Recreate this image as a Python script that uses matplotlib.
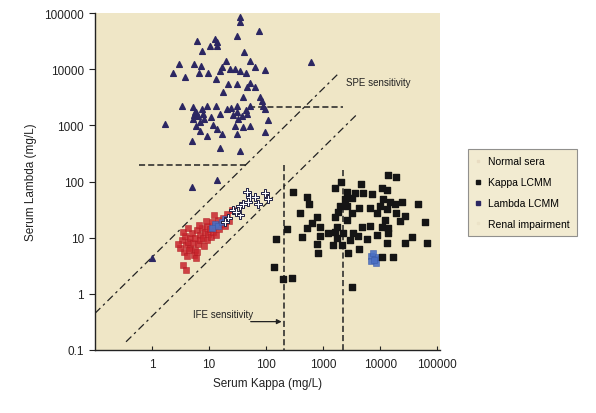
import matplotlib
matplotlib.use("Agg")
import matplotlib.pyplot as plt
from matplotlib.lines import Line2D

plt.rcParams['font.family'] = ['Liberation Sans', 'DejaVu Sans']

# ---------------- data (mg/L) ----------------
normal_kappa = [3.36, 3.8, 3.95, 4.28, 4.64, 4.64, 5.03, 5.24, 5.68, 5.68, 6.15, 6.4, 6.95, 6.95,
                7.5, 7.85, 8.2, 8.5, 9.2, 9.2, 9.6, 10.4, 10.8, 11.3, 11.7, 12.7, 13.3, 14.4, 15.0,
                16.2, 17.6, 19.1, 20.7, 22.4, 3.64, 4.1, 4.46, 5.46, 6.15, 3.1, 2.86, 3.5, 4.28,
                6.68, 5.9, 3.5, 3.95, 8.85, 12.2, 25.3]
normal_lambda = [9.2, 10.9, 7.5, 8.5, 10.0, 6.6, 12.3, 8.1, 10.0, 6.1, 13.9, 7.8, 11.3, 9.2,
                 15.1, 10.0, 7.2, 12.8, 16.4, 9.2, 11.8, 14.5, 10.4, 19.3, 12.8, 16.4, 11.3, 21.0, 14.5,
                 17.8, 22.8, 16.4, 26.8, 20.0, 5.6, 4.8, 6.1, 5.0, 5.6, 6.6, 7.8, 12.8, 15.1,
                 17.1, 4.4, 3.3, 2.7, 20.0, 25.8, 31.6]

kappa_lcmm_kappa = [13800, 19100, 2070, 4640, 1620, 298, 2640, 3650, 5030, 7250, 10850, 13300, 523,
                    2430, 3230, 11300, 15000, 24300, 46400, 568, 1990, 2640, 4280, 6680, 10000, 18300,
                    13300, 395, 1830, 3230, 8850, 19100, 27500, 785, 1620, 2640, 12200, 22400, 61700,
                    641, 523, 885, 1760, 4830, 6680, 10850, 13800, 234, 1230, 1620, 2240, 3360, 4110,
                    8850, 13800, 885, 427, 36400, 150, 1760, 2980, 5900, 13300, 27500, 66800, 785,
                    1500, 2150, 4280, 815, 2750, 10850, 16900, 138, 286, 200, 3230]
kappa_lcmm_lambda = [128, 118, 100, 92, 78, 66, 66, 63, 63, 61, 78, 72, 52,
                     48, 50, 48, 44, 44, 40, 39, 36, 36, 34, 34, 36, 39,
                     32, 28, 29, 27, 28, 28, 24, 23, 23, 21, 21, 20, 19,
                     18, 15.1, 15.7, 15.7, 15.7, 16.4, 15.7, 15.1, 14.5, 12.3, 12.8, 12.3, 12.3, 10.9,
                     11.3, 12.3, 10.9, 10.4, 10.4, 9.6, 10.0, 9.2, 9.6, 8.1, 8.1, 8.1, 7.8,
                     7.5, 7.5, 6.3, 5.4, 5.4, 4.6, 4.6, 3.0, 1.9, 1.8, 1.3]

lambda_lcmm_kappa = [35, 35, 75, 31, 6.2, 12.7, 13.8, 10.4, 13.8, 7.5, 41, 19.9, 52, 616, 3.0, 2.3,
                     3.8, 5.5, 7.2, 6.7, 9.6, 15.6, 16.9, 23.4, 28.6, 35, 44.6, 64, 96, 13.3, 21.5,
                     31, 46.4, 64, 52, 17.6, 39.5, 78.5, 3.4, 5.2, 5.7, 6.4, 7.9, 7.5, 9.2, 5.2, 7.0,
                     13.3, 15.6, 20.7, 31, 31, 38, 46.4, 52, 85, 88.5, 96, 32, 28.6, 52, 39.5, 108,
                     1.7, 11.7, 13.8, 7.0, 5.9, 96, 31, 9.2, 16.9, 6.0, 8.0, 5.5, 11, 26, 24, 45,
                     5.0, 15.6, 35, 13.8, 5.0, 1.0]
lambda_lcmm_lambda = [85000, 69000, 48000, 39000, 31600, 34500, 30200, 25700, 25700, 21000, 20000,
                      13900, 13900, 13300, 12300, 8500, 7200, 12300, 11300, 8500, 8500, 9140, 10900,
                      10000, 10000, 9140, 8500, 10900, 9560, 6600, 5390, 5390, 4760, 4760, 5630, 3880,
                      3160, 3160, 2180, 2100, 1720, 1440, 1580, 1940, 2180, 1280, 1130, 2180, 1580,
                      1940, 2180, 1720, 1440, 1580, 2180, 2690, 2180, 1940, 1280, 960, 960, 920, 1230,
                      1040, 1000, 850, 780, 960, 750, 690, 635, 690, 1700, 1300, 1500, 1400, 1500,
                      2000, 1900, 520, 400, 345, 108, 80, 4.4]

renal_kappa = [46.4, 52, 48.6, 96, 108, 35, 26.3, 35, 21.5, 19.1, 64, 39.5, 29.8, 72]
renal_lambda = [66, 54, 44, 63, 48, 36, 31.6, 25.8, 22.8, 19.3, 52, 39, 29, 39]

blue_kappa = [7000, 8000, 7500, 9000, 6800, 8500, 7800, 12.7, 14.4, 16.9, 11.3, 19.1]
blue_lambda = [4.8, 4.2, 5.3, 4.5, 3.9, 3.6, 4.0, 17.8, 16.4, 19.3, 15.1, 21.6]

# reference limits
ife_kappa, ife_lambda = 210, 200
spe_kappa, spe_lambda = 2200, 2100
upper_ratio, lower_ratio = 4.5, 0.4

x_ticks = [1, 10, 100, 1000, 10000, 100000]
x_labels = ["1", "10", "100", "1000", "10000", "100000"]
y_ticks = [0.1, 1, 10, 100, 1000, 10000, 100000]
y_labels = ["0.1", "1", "10", "100", "1000", "10000", "100000"]

# ---------------- figure ----------------
W, H = 596, 414
fig = plt.figure(figsize=(W / 100, H / 100), dpi=100)
fig.patch.set_facecolor('white')
ax = fig.add_axes([95 / W, 1 - 351 / H, (440 - 95) / W, (351 - 14) / H])
bg = '#efe6c6'
ax.set_facecolor(bg)
ax.set_xscale('log')
ax.set_yscale('log')
ax.set_xlim(0.1, 1.12e5)
ax.set_ylim(0.1, 1.0e5)

line_col = '#222222'
dd = (0, (6, 3, 2, 3))
# diagonal ratio lines
ax.plot([0.1, 1900], [0.1 * upper_ratio, 1900 * upper_ratio], color=line_col, lw=0.9, ls=dd, zorder=2)
ax.plot([0.35, 4000], [0.35 * lower_ratio, 4000 * lower_ratio], color=line_col, lw=0.9, ls=dd, zorder=2)
# IFE limits
ax.plot([0.6, ife_lambda / upper_ratio], [ife_lambda, ife_lambda], color=line_col, lw=1.1, ls=(0, (4, 2)), zorder=2)
ax.plot([ife_kappa, ife_kappa], [ife_lambda, 0.1], color=line_col, lw=1.1, ls=(0, (4, 2)), zorder=2)
# SPE limits
ax.plot([50, spe_kappa], [spe_lambda, spe_lambda], color=line_col, lw=1.1, ls=(0, (4, 2)), zorder=2)
ax.plot([spe_kappa, spe_kappa], [160, 0.1], color=line_col, lw=1.1, ls=(0, (4, 2)), zorder=2)

# scatter series
ax.scatter(normal_kappa, normal_lambda, marker='s', s=20, color='#c9252d', edgecolors='#b01a22',
           linewidths=0.4, alpha=0.85, zorder=3)
ax.scatter(blue_kappa, blue_lambda, marker='s', s=16, color='#4a6fc4', edgecolors='#3a5aa8',
           linewidths=0.4, alpha=0.9, zorder=4)
ax.scatter(kappa_lcmm_kappa, kappa_lcmm_lambda, marker='s', s=14, color='#151515', zorder=4)
ax.scatter(lambda_lcmm_kappa, lambda_lcmm_lambda, marker='^', s=17, color='#2c2762', zorder=4)
ax.scatter(renal_kappa, renal_lambda, marker='P', s=40, facecolor='white', edgecolors='#222244',
           linewidths=0.7, zorder=5)

# annotations
ax.text(2500, 5800, "SPE sensitivity", fontsize=7, color='#222222', va='center', ha='left', zorder=6)
ax.text(5.2, 0.43, "IFE sensitivity", fontsize=7, color='#222222', va='center', ha='left', zorder=6)
ax.annotate("", xy=(ife_kappa, 0.32), xytext=(48, 0.32),
            arrowprops=dict(arrowstyle='-|>', color='#222222', lw=0.9, mutation_scale=7), zorder=6)

# axes styling
for s in ['top', 'right']:
    ax.spines[s].set_visible(False)
ax.spines['left'].set_color('#222222')
ax.spines['bottom'].set_color('#222222')
ax.spines['left'].set_linewidth(1.0)
ax.spines['bottom'].set_linewidth(1.0)
ax.set_xticks(x_ticks)
ax.set_xticklabels(x_labels)
ax.set_yticks(y_ticks)
ax.set_yticklabels(y_labels)
ax.minorticks_off()
ax.tick_params(axis='x', direction='in', length=3, pad=6, labelsize=8.5, colors='#222222')
ax.tick_params(axis='y', direction='out', length=4, pad=4, labelsize=8.5, colors='#222222')
ax.set_xlabel("Serum Kappa (mg/L)", fontsize=8.5, labelpad=5, color='#222222')
ax.set_ylabel("Serum Lambda (mg/L)", fontsize=8.5, labelpad=5, color='#222222')

# legend
handles = [
    Line2D([], [], ls='none', marker='s', ms=2, color='#e9dcc2'),
    Line2D([], [], ls='none', marker='s', ms=2.5, color='#151515'),
    Line2D([], [], ls='none', marker='s', ms=2.5, color='#2c2762'),
    Line2D([], [], ls='none', marker='s', ms=2, color='#ece3c8'),
]
labels = ["Normal sera", "Kappa LCMM", "Lambda LCMM", "Renal impairment"]
leg = fig.legend(handles, labels, loc='upper left', bbox_to_anchor=(468 / W, 1 - 150 / H),
                 fontsize=7.5, frameon=True, fancybox=False, facecolor=bg, edgecolor='#777777',
                 handlelength=0.6, handletextpad=0.6, labelspacing=1.05, borderpad=0.7,
                 borderaxespad=0)
leg.get_frame().set_linewidth(0.8)

fig.savefig("out.png", dpi=100, facecolor='white')
